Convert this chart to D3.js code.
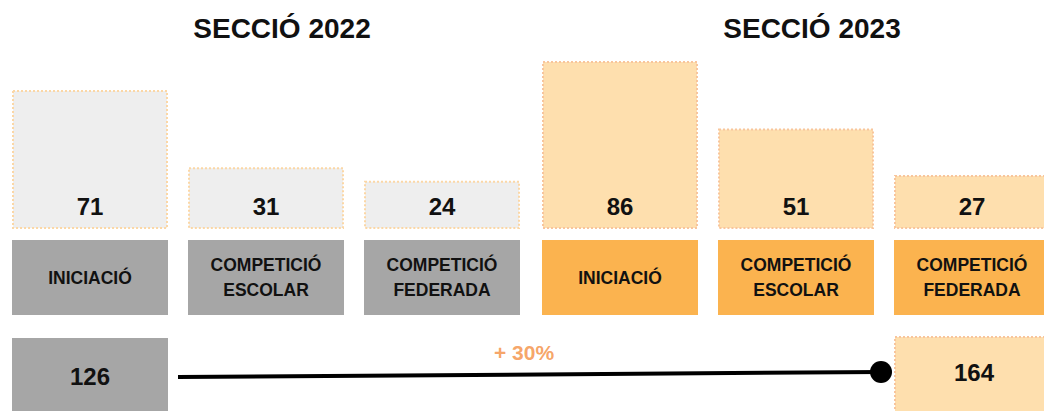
<!DOCTYPE html>
<html>
<head>
<meta charset="utf-8">
<script src="https://cdn.jsdelivr.net/npm/d3@7"></script>
<style>
  body { margin: 0; background: #fff; }
  svg { display: block; font-family: "Liberation Sans", Arial, sans-serif; }
</style>
</head>
<body>
<div id="chart"></div>
<script>
// Data
const sections = ['SECCIÓ 2022', 'SECCIÓ 2023'];
const categories = ['INICIACIÓ', 'COMPETICIÓ ESCOLAR', 'COMPETICIÓ FEDERADA'];
const values2022 = [71, 31, 24];
const values2023 = [86, 51, 27];
const totals = [126, 164];
const growthLabel = '+ 30%';

const width = 1044, height = 411;

const colors = {
    boxOld: '#eeeeee',
    boxNew: '#fedfae',
    borderOld: '#fbd7a6',
    borderNew: '#f8c59c',
    labelOld: '#a6a6a6',
    labelNew: '#fbb34f',
    growth: '#f59a55',
    text: '#111111'
};

const svg = d3.select('#chart')
    .append('svg')
    .attr('width', width)
    .attr('height', height);

// flatten into columns
const columns = [];
sections.forEach((s, si) => {
    const vals = si === 0 ? values2022 : values2023;
    categories.forEach((c, ci) => {
        columns.push({ key: si + '-' + ci, section: si, category: c, value: vals[ci] });
    });
});

// x: one band per column
const x = d3.scaleBand()
    .domain(columns.map(d => d.key))
    .range([2, 1058])
    .paddingInner(20 / 176)
    .paddingOuter(10 / 176);

// y: value boxes grow up from a common baseline
const baseline = 228;
const y = d3.scaleLinear()
    .domain([0, 86])
    .range([baseline, 62]);

const colX = d => x(d.key) + (d.section === 1 ? 2 : 0);

// Section titles
sections.forEach((s, si) => {
    const mid = columns[si * 3 + 1];
    svg.append('text')
        .attr('x', colX(mid) + x.bandwidth() / 2 + 16)
        .attr('y', 38)
        .attr('text-anchor', 'middle')
        .attr('font-size', 28)
        .attr('font-weight', 'bold')
        .attr('fill', colors.text)
        .text(s);
});

// Value boxes
const bars = svg.selectAll('.bar')
    .data(columns)
    .enter().append('g')
    .attr('class', 'bar');

bars.append('rect')
    .attr('x', d => colX(d) + 1)
    .attr('y', d => y(d.value))
    .attr('width', x.bandwidth() - 2)
    .attr('height', d => baseline - y(d.value))
    .attr('fill', d => d.section === 0 ? colors.boxOld : colors.boxNew)
    .attr('stroke', d => d.section === 0 ? colors.borderOld : colors.borderNew)
    .attr('stroke-width', 2)
    .attr('stroke-dasharray', '2 2');

bars.append('text')
    .attr('x', d => colX(d) + x.bandwidth() / 2)
    .attr('y', baseline - 13)
    .attr('text-anchor', 'middle')
    .attr('font-size', 24)
    .attr('font-weight', 'bold')
    .attr('fill', colors.text)
    .text(d => d.value);

// Category label boxes
const labelTop = 240, labelH = 75;
const labels = svg.selectAll('.label')
    .data(columns)
    .enter().append('g')
    .attr('class', 'label');

labels.append('rect')
    .attr('x', d => colX(d))
    .attr('y', labelTop)
    .attr('width', x.bandwidth())
    .attr('height', labelH)
    .attr('fill', d => d.section === 0 ? colors.labelOld : colors.labelNew);

labels.each(function(d) {
    const lines = d.category.split(' ');
    const cy = labelTop + labelH / 2;
    const lh = 25;
    d3.select(this).selectAll('text')
        .data(lines)
        .enter().append('text')
        .attr('x', colX(d) + x.bandwidth() / 2)
        .attr('y', (t, i) => cy + (i - (lines.length - 1) / 2) * lh + 6)
        .attr('text-anchor', 'middle')
        .attr('font-size', 17.5)
        .attr('font-weight', 'bold')
        .attr('fill', colors.text)
        .text(t => t);
});

// Totals row
const first = columns[0], last = columns[columns.length - 1];
svg.append('rect')
    .attr('x', colX(first))
    .attr('y', 338)
    .attr('width', x.bandwidth())
    .attr('height', 80)
    .attr('fill', colors.labelOld);

svg.append('rect')
    .attr('x', colX(last) + 1)
    .attr('y', 337)
    .attr('width', x.bandwidth())
    .attr('height', 80)
    .attr('fill', colors.boxNew)
    .attr('stroke', colors.borderNew)
    .attr('stroke-width', 2)
    .attr('stroke-dasharray', '2 2');

svg.append('text')
    .attr('x', colX(first) + x.bandwidth() / 2)
    .attr('y', 385)
    .attr('text-anchor', 'middle')
    .attr('font-size', 24)
    .attr('font-weight', 'bold')
    .attr('fill', colors.text)
    .text(totals[0]);

svg.append('text')
    .attr('x', colX(last) + x.bandwidth() / 2 + 2)
    .attr('y', 381)
    .attr('text-anchor', 'middle')
    .attr('font-size', 24)
    .attr('font-weight', 'bold')
    .attr('fill', colors.text)
    .text(totals[1]);

// Connector line
const lineStart = [colX(first) + x.bandwidth() + 10, 377];
const lineEnd = [colX(last) - 13, 372];
svg.append('path')
    .attr('d', d3.line()([lineStart, lineEnd]))
    .attr('stroke', '#000')
    .attr('stroke-width', 4)
    .attr('fill', 'none');

svg.append('circle')
    .attr('cx', lineEnd[0])
    .attr('cy', lineEnd[1])
    .attr('r', 11)
    .attr('fill', '#000');

svg.append('text')
    .attr('x', 524)
    .attr('y', 360)
    .attr('text-anchor', 'middle')
    .attr('font-size', 21)
    .attr('font-weight', 'bold')
    .attr('fill', colors.growth)
    .attr('fill-opacity', 0.9)
    .text(growthLabel);
</script>
</body>
</html>
